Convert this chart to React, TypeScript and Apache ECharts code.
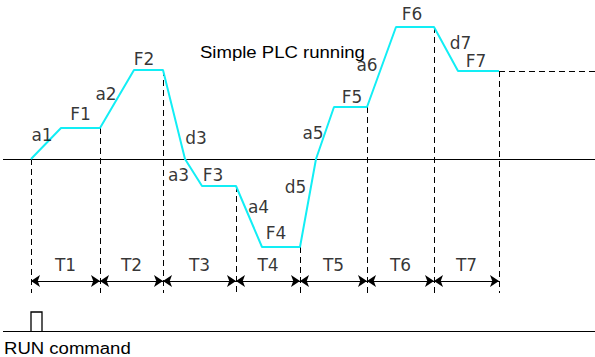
import React, { useEffect, useRef } from "react";
import * as echarts from "echarts";

// time boundaries of the seven steps and the frequency level at each boundary
const T_BOUNDS = [0, 69, 132, 205, 269, 336, 403, 468];
const BOUND_LEVELS = [0, 31, 89, -27, -88, 52, 132, 88];
const PERIOD_LABELS = ["T1", "T2", "T3", "T4", "T5", "T6", "T7"];

// frequency profile of the simple PLC run
const PROFILE_T = [0, 30, 69, 103, 132, 154, 171, 205, 231, 269, 285, 303, 336, 365, 403, 427, 468];
const PROFILE_F = [0, 31, 31, 89, 89, 0, -27, -27, -88, -88, 0, 52, 52, 132, 132, 88, 88];

// step annotations
const STEP_LABELS = ["a1", "F1", "a2", "F2", "d3", "a3", "F3", "a4", "F4", "d5", "a5", "F5", "a6", "F6", "d7", "F7"];
const STEP_LABEL_T = [11, 49.5, 75, 113, 165, 147.5, 182, 227.5, 245, 264.5, 282, 321, 336, 381, 429.5, 445];
const STEP_LABEL_F = [24, 45.5, 65.5, 100.5, 21.5, -16, -15.5, -47.5, -73.5, -27.5, 26, 62, 94, 145, 116, 98.5];

const AXIS_RANGE_T = [-31, 564];
const AXIS_RANGE_F = [-198, 159];
const AXIS_START_T = -28;
const DASH_BOTTOM = -134;
const ARROW_F = -122;
const PERIOD_LABEL_F = -106;
const RUN_LINE_F = -172;
const RUN_PULSE = { t0: 0, t1: 11, top: -153 };
const TITLE = { text: "Simple PLC running", t: 169, f: 107 };
const RUN_TEXT = { text: "RUN command", t: -27, f: -189 };

export default function App() {
  const ref = useRef<HTMLDivElement>(null);

  useEffect(() => {
    const chart = echarts.init(ref.current!, null, { renderer: "svg" });
    const tMax = AXIS_RANGE_T[1];
    const lastIdx = T_BOUNDS.length - 1;

    const verticalDashes = T_BOUNDS.map((t, i) => ({
      coords: [
        [t, BOUND_LEVELS[i]],
        [t, DASH_BOTTOM],
      ],
    }));
    verticalDashes.push({
      coords: [
        [T_BOUNDS[lastIdx], BOUND_LEVELS[lastIdx]],
        [tMax, BOUND_LEVELS[lastIdx]],
      ],
    });

    const arrows = PERIOD_LABELS.map((_, i) => ({
      coords: [
        [T_BOUNDS[i], ARROW_F],
        [T_BOUNDS[i + 1], ARROW_F],
      ],
    }));

    const stepLabelData = STEP_LABELS.map((s, i) => [STEP_LABEL_T[i], STEP_LABEL_F[i], s]);
    const periodLabelData = PERIOD_LABELS.map((s, i) => [
      (T_BOUNDS[i] + T_BOUNDS[i + 1]) / 2,
      PERIOD_LABEL_F,
      s,
    ]);

    const labelStyle = {
      show: true,
      position: "inside",
      formatter: (p: any) => p.value[2],
      fontFamily: "DejaVu Sans",
      fontSize: 17,
      color: "#000",
      align: "center",
      verticalAlign: "middle",
    };

    chart.setOption({
      animation: false,
      backgroundColor: "#fff",
      grid: { left: 0, right: 0, top: 0, bottom: 0 },
      xAxis: { type: "value", min: AXIS_RANGE_T[0], max: AXIS_RANGE_T[1], show: false },
      yAxis: { type: "value", min: AXIS_RANGE_F[0], max: AXIS_RANGE_F[1], show: false },
      series: [
        {
          type: "lines",
          coordinateSystem: "cartesian2d",
          silent: true,
          lineStyle: { color: "#000", width: 1, type: "solid", opacity: 1 },
          data: [
            { coords: [[AXIS_START_T, 0], [tMax, 0]] },
            { coords: [[AXIS_START_T, RUN_LINE_F], [tMax, RUN_LINE_F]] },
          ],
          z: 2,
        },
        {
          type: "lines",
          coordinateSystem: "cartesian2d",
          polyline: true,
          silent: true,
          lineStyle: { color: "#000", width: 1.3, opacity: 1 },
          data: [
            {
              coords: [
                [RUN_PULSE.t0, RUN_LINE_F],
                [RUN_PULSE.t0, RUN_PULSE.top],
                [RUN_PULSE.t1, RUN_PULSE.top],
                [RUN_PULSE.t1, RUN_LINE_F],
              ],
            },
          ],
          z: 2,
        },
        {
          type: "lines",
          coordinateSystem: "cartesian2d",
          silent: true,
          lineStyle: { color: "#000", width: 1, type: [6, 4], opacity: 1 },
          data: verticalDashes,
          z: 2,
        },
        {
          type: "lines",
          coordinateSystem: "cartesian2d",
          silent: true,
          symbol: ["arrow", "arrow"],
          symbolSize: 9,
          lineStyle: { color: "#000", width: 1, opacity: 1 },
          itemStyle: { color: "#000" },
          data: arrows,
          z: 3,
        },
        {
          type: "line",
          silent: true,
          symbol: "none",
          lineStyle: { color: "#12eef5", width: 2 },
          data: PROFILE_T.map((t, i) => [t, PROFILE_F[i]]),
          z: 5,
        },
        {
          type: "scatter",
          silent: true,
          symbolSize: 0,
          data: stepLabelData,
          label: labelStyle,
          z: 6,
        },
        {
          type: "scatter",
          silent: true,
          symbolSize: 0,
          data: periodLabelData,
          label: labelStyle,
          z: 6,
        },
      ],
    });

    const titlePx = chart.convertToPixel({ gridIndex: 0 }, [TITLE.t, TITLE.f]) as number[];
    const runPx = chart.convertToPixel({ gridIndex: 0 }, [RUN_TEXT.t, RUN_TEXT.f]) as number[];
    chart.setOption({
      graphic: [
        {
          type: "text",
          x: titlePx[0],
          y: titlePx[1],
          scaleX: 1.16,
          silent: true,
          style: {
            text: TITLE.text,
            font: '16px "Liberation Sans"',
            fill: "#000",
            align: "left",
            verticalAlign: "middle",
          },
          z: 10,
        },
        {
          type: "text",
          x: runPx[0],
          y: runPx[1],
          scaleX: 1.16,
          silent: true,
          style: {
            text: RUN_TEXT.text,
            font: '16px "Liberation Sans"',
            fill: "#000",
            align: "left",
            verticalAlign: "middle",
          },
          z: 10,
        },
      ],
    });

    return () => chart.dispose();
  }, []);

  return (
    <div
      ref={ref}
      style={{ position: "fixed", left: 0, top: 0, width: 595, height: 357, background: "#fff" }}
    />
  );
}
